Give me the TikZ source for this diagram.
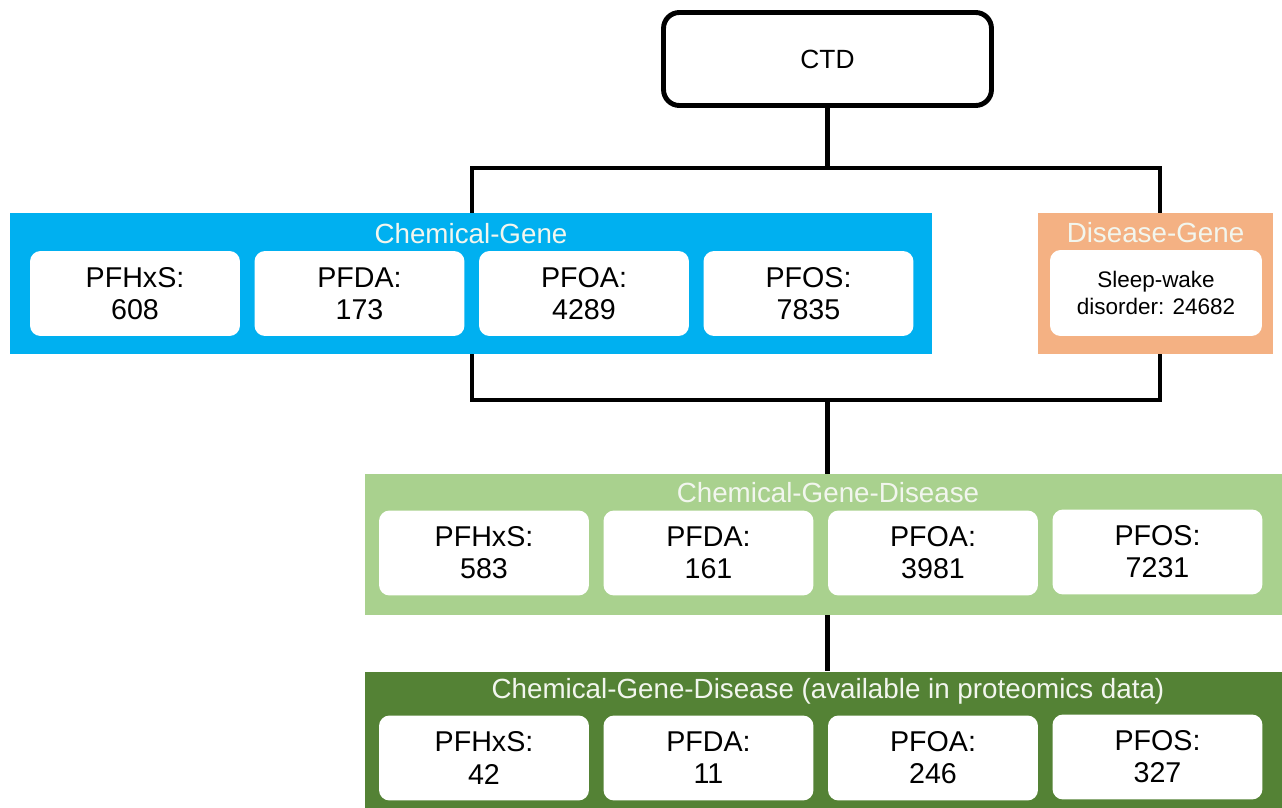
\documentclass[tikz,border=0pt]{standalone}
\usepackage{fontspec}
\setmainfont{Liberation Sans}
\usepackage{xcolor}
\usepackage{tikz}
\usetikzlibrary{positioning,calc}
\definecolor{skyblue}{RGB}{0,176,240}
\definecolor{peach}{RGB}{244,177,131}
\definecolor{lightgreen}{RGB}{169,209,142}
\definecolor{darkgreen}{RGB}{84,130,53}
\definecolor{paletext}{RGB}{242,246,238}
\tikzset{
  root/.style={rectangle,rounded corners=9pt,draw=black,line width=2.8pt,fill=white,
              minimum width=6.56cm,minimum height=1.86cm,align=center,font=\fontsize{15}{18}\selectfont},
  grp/.style={rectangle,inner sep=0pt,minimum height=2.82cm},
  item/.style={rectangle,rounded corners=6pt,fill=white,minimum width=4.2cm,
              minimum height=1.7cm,align=center,font=\fontsize{16.3}{18.3}\selectfont},
  grptitle/.style={text=paletext,font=\fontsize{15.8}{18}\selectfont},
  link/.style={line width=2.8pt,draw=black},
}

\begin{document}
\begin{tikzpicture}[x=0.02cm,y=-0.02cm]
  \useasboundingbox[fill=white] (0,0) rectangle (1282,808);
  \node[root] (ctd) at (827.5,59) {CTD};

  % chemical-gene
  \node[grp,fill=skyblue,minimum width=18.44cm] (cg) at (471,283.5) {};
  \node[grptitle] (cgt) at (471,234) {Chemical-Gene};
  \node[item] (cg1) at (135,293.5) {PFHxS:\\608};
  \node[item] (cg2) at (359.5,293.5) {PFDA:\\173};
  \node[item] (cg3) at (584,293.5) {PFOA:\\4289};
  \node[item] (cg4) at (808.5,293.5) {PFOS:\\7835};

  % disease-gene
  \node[grp,fill=peach,minimum width=4.7cm] (dg) at (1155.5,283.5) {};
  \node[grptitle] (dgt) at (1155.5,233) {Disease-Gene};
  \node[item,minimum width=4.24cm,minimum height=1.72cm,font=\fontsize{12.8}{15.5}\selectfont] (dg1) at (1156,293) {Sleep-wake\\disorder: 24682};

  % chemical-gene-disease
  \node[grp,fill=lightgreen,minimum width=18.4cm] (cgd) at (825,544.5) {};
  \node[grptitle] (cgdt) at (828,493) {Chemical-Gene-Disease};
  \node[item] (cgd1) at (484,553) {PFHxS:\\583};
  \node[item] (cgd2) at (708.5,553) {PFDA:\\161};
  \node[item] (cgd3) at (933,553) {PFOA:\\3981};
  \node[item] (cgd4) at (1157.5,552) {PFOS:\\7231};

  % in proteomics data
  \node[grp,fill=darkgreen,minimum width=18.4cm] (cgp) at (825,742) {};
  \node[grptitle] (cgpt) at (828,691) {Chemical-Gene-Disease (available in proteomics data)};
  \node[item] (cgp1) at (484,758) {PFHxS:\\42};
  \node[item] (cgp2) at (708.5,758) {PFDA:\\11};
  \node[item] (cgp3) at (933,758) {PFOA:\\246};
  \node[item] (cgp4) at (1157.5,757) {PFOS:\\327};

  \coordinate (topL) at (472,168);
  \coordinate (topR) at (1160,168);
  \coordinate (botL) at (472,400);
  \coordinate (botR) at (1160,400);

  \draw[link] (ctd.south) -- (ctd.south|-topL);
  \draw[link] (topL|-cg.north) -- (topL) -- (topR) -- (topR|-dg.north);
  \draw[link] (botL|-cg.south) -- (botL) -- (botR) -- (botR|-dg.south);
  \draw[link] (ctd.south|-botL) -- (ctd.south|-cgd.north);
  \draw[link] (ctd.south|-cgd.south) -- (ctd.south|-cgp.north);
\end{tikzpicture}
\end{document}
